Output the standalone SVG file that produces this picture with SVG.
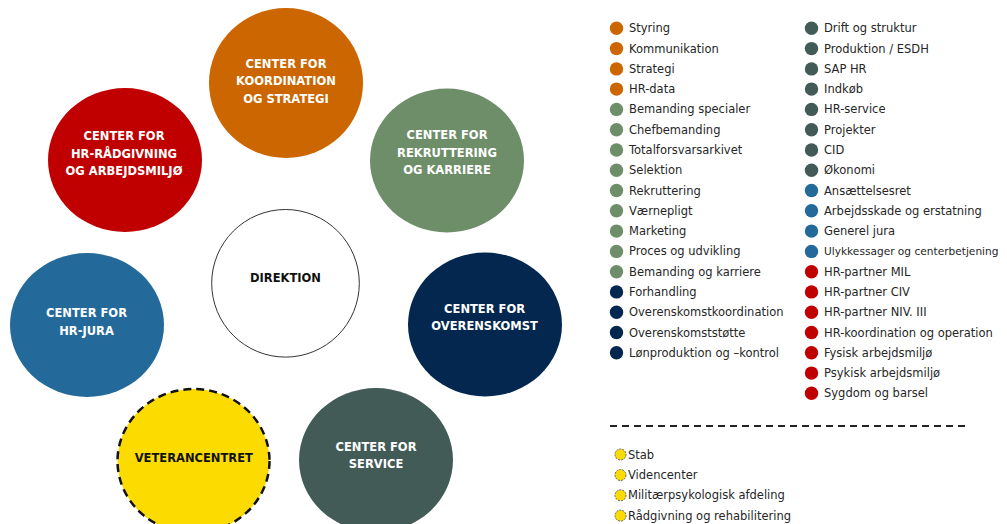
<svg xmlns="http://www.w3.org/2000/svg" width="1007" height="524" viewBox="0 0 1007 524">
<style>
.lbl{font-family:"DejaVu Sans",Verdana,sans-serif;font-weight:bold;font-size:11.5px;text-anchor:middle;fill:#fff}
.dk{fill:#111}
.lg{font-family:"DejaVu Sans",Verdana,sans-serif;font-size:11.5px;fill:#262626}
.sm{font-size:10.6px}
.or{fill:#CC6600}.rd{fill:#C00000}.gr{fill:#6E8E69}.bl{fill:#236A9A}.nv{fill:#03274F}.sv{fill:#425B57}.ye{fill:#FCDC00}
</style>
<rect width="1007" height="524" fill="#fff"/>
<g id="connectors"/>
<g id="koordination"><ellipse class="or" cx="286" cy="83" rx="77" ry="75"/>
<text class="lbl" x="286" y="67.5">CENTER FOR</text><text class="lbl" x="286" y="85">KOORDINATION</text><text class="lbl" x="286" y="102.7">OG STRATEGI</text></g>
<g id="hr-raadgivning"><ellipse class="rd" cx="125" cy="160" rx="77" ry="72"/>
<text class="lbl" x="124" y="140">CENTER FOR</text><text class="lbl" x="124" y="157.7">HR-RÅDGIVNING</text><text class="lbl" x="124" y="175">OG ARBEJDSMILJØ</text></g>
<g id="rekruttering"><ellipse class="gr" cx="447" cy="160.5" rx="77" ry="72"/>
<text class="lbl" x="447" y="139.3">CENTER FOR</text><text class="lbl" x="447" y="156.7">REKRUTTERING</text><text class="lbl" x="447" y="174">OG KARRIERE</text></g>
<g id="direktion"><circle cx="285.5" cy="283.3" r="73.8" fill="#fff" stroke="#333" stroke-width="1"/>
<text class="lbl dk" x="285.5" y="281.7">DIREKTION</text></g>
<g id="hr-jura"><ellipse class="bl" cx="87" cy="325" rx="77" ry="72"/>
<text class="lbl" x="86.5" y="317.3">CENTER FOR</text><text class="lbl" x="86.5" y="335">HR-JURA</text></g>
<g id="overenskomst"><ellipse class="nv" cx="485" cy="324.5" rx="77" ry="72"/>
<text class="lbl" x="484.6" y="313">CENTER FOR</text><text class="lbl" x="484.6" y="330.3">OVERENSKOMST</text></g>
<g id="veterancentret"><ellipse class="ye" cx="193.5" cy="461" rx="76" ry="72" stroke="#111" stroke-width="2.5" stroke-dasharray="8,5"/>
<text class="lbl dk" x="193.8" y="462.3">VETERANCENTRET</text></g>
<g id="service"><ellipse class="sv" cx="376" cy="460" rx="77" ry="72"/>
<text class="lbl" x="376" y="451">CENTER FOR</text><text class="lbl" x="376" y="468">SERVICE</text></g>
<g id="legend">
<g class="or"><circle cx="616.5" cy="28.3" r="6.7"/><circle cx="616.5" cy="48.6" r="6.7"/><circle cx="616.5" cy="68.9" r="6.7"/><circle cx="616.5" cy="89.1" r="6.7"/></g>
<g class="gr"><circle cx="616.5" cy="109.4" r="6.7"/><circle cx="616.5" cy="129.7" r="6.7"/><circle cx="616.5" cy="150" r="6.7"/><circle cx="616.5" cy="170.3" r="6.7"/><circle cx="616.5" cy="190.5" r="6.7"/><circle cx="616.5" cy="210.8" r="6.7"/><circle cx="616.5" cy="231.1" r="6.7"/><circle cx="616.5" cy="251.4" r="6.7"/><circle cx="616.5" cy="271.7" r="6.7"/></g>
<g class="nv"><circle cx="616.5" cy="291.9" r="6.7"/><circle cx="616.5" cy="312.2" r="6.7"/><circle cx="616.5" cy="332.5" r="6.7"/><circle cx="616.5" cy="352.8" r="6.7"/></g>
<g class="sv"><circle cx="811.5" cy="28.3" r="6.7"/><circle cx="811.5" cy="48.6" r="6.7"/><circle cx="811.5" cy="68.9" r="6.7"/><circle cx="811.5" cy="89.1" r="6.7"/><circle cx="811.5" cy="109.4" r="6.7"/><circle cx="811.5" cy="129.7" r="6.7"/><circle cx="811.5" cy="150" r="6.7"/><circle cx="811.5" cy="170.3" r="6.7"/></g>
<g class="bl"><circle cx="811.5" cy="190.5" r="6.7"/><circle cx="811.5" cy="210.8" r="6.7"/><circle cx="811.5" cy="231.1" r="6.7"/><circle cx="811.5" cy="251.4" r="6.7"/></g>
<g class="rd"><circle cx="811.5" cy="271.7" r="6.7"/><circle cx="811.5" cy="291.9" r="6.7"/><circle cx="811.5" cy="312.2" r="6.7"/><circle cx="811.5" cy="332.5" r="6.7"/><circle cx="811.5" cy="352.8" r="6.7"/><circle cx="811.5" cy="373.1" r="6.7"/><circle cx="811.5" cy="393.3" r="6.7"/></g>
<g class="lg">
<text x="629" y="32.3">Styring</text><text x="629" y="52.6">Kommunikation</text><text x="629" y="72.9">Strategi</text><text x="629" y="93.1">HR-data</text>
<text x="629" y="113.4">Bemanding specialer</text><text x="629" y="133.7">Chefbemanding</text><text x="629" y="154">Totalforsvarsarkivet</text><text x="629" y="174.3">Selektion</text><text x="629" y="194.5">Rekruttering</text><text x="629" y="214.8">Værnepligt</text><text x="629" y="235.1">Marketing</text><text x="629" y="255.4">Proces og udvikling</text><text x="629" y="275.7">Bemanding og karriere</text>
<text x="629" y="295.9">Forhandling</text><text x="629" y="316.2">Overenskomstkoordination</text><text x="629" y="336.5">Overenskomststøtte</text><text x="629" y="356.8">Lønproduktion og –kontrol</text>
<text x="824" y="32.3">Drift og struktur</text><text x="824" y="52.6">Produktion / ESDH</text><text x="824" y="72.9">SAP HR</text><text x="824" y="93.1">Indkøb</text><text x="824" y="113.4">HR-service</text><text x="824" y="133.7">Projekter</text><text x="824" y="154">CID</text><text x="824" y="174.3">Økonomi</text>
<text x="824" y="194.5">Ansættelsesret</text><text x="824" y="214.8">Arbejdsskade og erstatning</text><text x="824" y="235.1">Generel jura</text><text class="sm" x="824" y="255.4">Ulykkessager og centerbetjening</text>
<text x="824" y="275.7">HR-partner MIL</text><text x="824" y="295.9">HR-partner CIV</text><text x="824" y="316.2">HR-partner NIV. III</text><text x="824" y="336.5">HR-koordination og operation</text><text x="824" y="356.8">Fysisk arbejdsmiljø</text><text x="824" y="377.1">Psykisk arbejdsmiljø</text><text x="824" y="397.3">Sygdom og barsel</text>
</g>
<line x1="610" y1="426" x2="965" y2="426" stroke="#222" stroke-width="2" stroke-dasharray="7,5"/>
<g fill="#FCDC00" stroke="#666" stroke-width="1" stroke-dasharray="2,1"><circle cx="620.5" cy="454.5" r="5.5"/><circle cx="620.5" cy="475" r="5.5"/><circle cx="620.5" cy="495.3" r="5.5"/><circle cx="620.5" cy="515.6" r="5.5"/></g>
<g class="lg"><text x="628" y="458.5">Stab</text><text x="628" y="479">Videncenter</text><text x="628" y="499.3">Militærpsykologisk afdeling</text><text x="628" y="519.6">Rådgivning og rehabilitering</text></g>
</g>
</svg>
